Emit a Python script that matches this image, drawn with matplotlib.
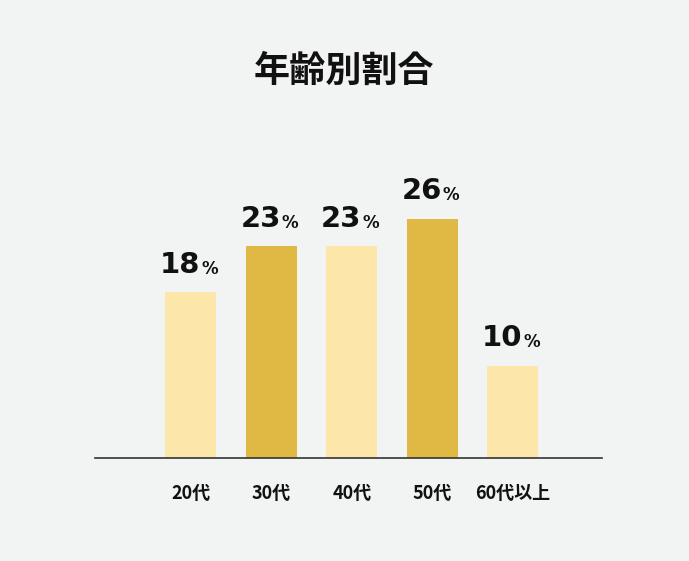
import matplotlib
matplotlib.use("Agg")
import matplotlib.pyplot as plt

plt.rcParams['font.family'] = ['Noto Sans CJK JP', 'DejaVu Sans']

# データ
categories = ['20代', '30代', '40代', '50代', '60代以上']
values = [18, 23, 23, 26, 10]
bar_colors = ['#FCE6A9', '#DFB944', '#FCE6A9', '#DFB944', '#FCE6A9']
title = '年齢別割合'

bg = '#F2F4F3'
fig = plt.figure(figsize=(6.89, 5.61), dpi=100, facecolor=bg)
ax = fig.add_axes([95 / 689, 103 / 561, 507 / 689, 276 / 561], facecolor=bg)

x = list(range(len(categories)))
ax.bar(x, values, width=0.63, color=bar_colors, zorder=2)

# ラベル (数字 + 小さい%)
for xi, v in zip(x, values):
    ax.annotate(str(v), (xi, v), xytext=(7, 10), textcoords='offset points',
                ha='right', va='bottom', fontsize=21, fontweight='bold',
                family='DejaVu Sans', color='#111111')
    ax.annotate('%', (xi, v), xytext=(7.5, 10.5), textcoords='offset points',
                ha='left', va='bottom', fontsize=12, fontweight='bold',
                family='DejaVu Sans', color='#111111')

ax.set_xlim(-1.19, 5.11)
ax.set_ylim(0, 30)
ax.set_xticks(x)
ax.set_xticklabels(categories, fontsize=13, fontweight='bold', color='#111111')
ax.tick_params(axis='x', length=0, pad=19)
ax.set_yticks([])
for s in ['top', 'right', 'left']:
    ax.spines[s].set_visible(False)
ax.spines['bottom'].set_color('#333333')
ax.spines['bottom'].set_linewidth(1.2)

fig.text(0.5, 1 - 71 / 561, title, ha='center', va='center',
         fontsize=26, fontweight='bold', color='#111111')

fig.savefig('out.png', dpi=100, facecolor=bg)
